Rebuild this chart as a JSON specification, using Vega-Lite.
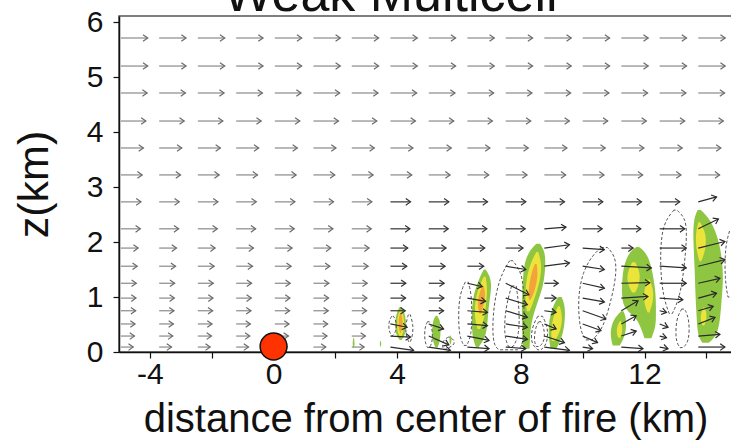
{
"$schema": "https://vega.github.io/schema/vega-lite/v6.json",
"autosize": {"type": "none"},
"padding": {"left": 119, "top": 16, "right": 0, "bottom": 92},
"width": 613,
"height": 336,
"background": "white",
"title": {"text": "Weak Multicell", "fontSize": 52, "font": "Liberation Sans", "fontWeight": "normal", "color": "#111", "anchor": "middle", "dx": -35, "dy": 15, "offset": 0},
"config": {
  "view": {"stroke": "#555", "strokeWidth": 1.5},
  "axis": {"labelFont": "Liberation Sans", "titleFont": "Liberation Sans", "labelFontSize": 30, "titleFontSize": 40, "titleFontWeight": "normal", "labelColor": "#111", "titleColor": "#111", "domainColor": "#111", "domainWidth": 1.5, "tickColor": "#111", "tickSize": 6, "tickWidth": 1.2, "grid": false},
  "axisX": {"titlePadding": 10, "labelPadding": 1},
  "axisY": {"titlePadding": 30, "labelPadding": 10, "titleFontSize": 43}
},
"datasets": {
"env": [
{"x":-4.94,"z":5.71,"xe":-4.07},{"x":-3.70,"z":5.71,"xe":-2.83},{"x":-2.45,"z":5.71,"xe":-1.58},{"x":-1.21,"z":5.71,"xe":-0.34},{"x":0.04,"z":5.71,"xe":0.91},{"x":1.29,"z":5.71,"xe":2.16},{"x":2.53,"z":5.71,"xe":3.40},{"x":3.78,"z":5.71,"xe":4.65},{"x":5.02,"z":5.71,"xe":5.89},{"x":6.27,"z":5.71,"xe":7.14},{"x":7.51,"z":5.71,"xe":8.38},{"x":8.76,"z":5.71,"xe":9.63},{"x":10.0,"z":5.71,"xe":10.87},{"x":11.25,"z":5.71,"xe":12.12},{"x":12.49,"z":5.71,"xe":13.36},{"x":13.74,"z":5.71,"xe":14.61},
{"x":-4.94,"z":5.2,"xe":-4.07},{"x":-3.70,"z":5.2,"xe":-2.83},{"x":-2.45,"z":5.2,"xe":-1.58},{"x":-1.21,"z":5.2,"xe":-0.34},{"x":0.04,"z":5.2,"xe":0.91},{"x":1.29,"z":5.2,"xe":2.16},{"x":2.53,"z":5.2,"xe":3.40},{"x":3.78,"z":5.2,"xe":4.65},{"x":5.02,"z":5.2,"xe":5.89},{"x":6.27,"z":5.2,"xe":7.14},{"x":7.51,"z":5.2,"xe":8.38},{"x":8.76,"z":5.2,"xe":9.63},{"x":10.0,"z":5.2,"xe":10.87},{"x":11.25,"z":5.2,"xe":12.12},{"x":12.49,"z":5.2,"xe":13.36},{"x":13.74,"z":5.2,"xe":14.61},
{"x":-4.94,"z":4.71,"xe":-4.09},{"x":-3.70,"z":4.71,"xe":-2.85},{"x":-2.45,"z":4.71,"xe":-1.60},{"x":-1.21,"z":4.71,"xe":-0.36},{"x":0.04,"z":4.71,"xe":0.89},{"x":1.29,"z":4.71,"xe":2.14},{"x":2.53,"z":4.71,"xe":3.38},{"x":3.78,"z":4.71,"xe":4.63},{"x":5.02,"z":4.71,"xe":5.87},{"x":6.27,"z":4.71,"xe":7.12},{"x":7.51,"z":4.71,"xe":8.36},{"x":8.76,"z":4.71,"xe":9.61},{"x":10.0,"z":4.71,"xe":10.85},{"x":11.25,"z":4.71,"xe":12.10},{"x":12.49,"z":4.71,"xe":13.34},{"x":13.74,"z":4.71,"xe":14.59},
{"x":-4.94,"z":4.2,"xe":-4.13},{"x":-3.70,"z":4.2,"xe":-2.89},{"x":-2.45,"z":4.2,"xe":-1.64},{"x":-1.21,"z":4.2,"xe":-0.40},{"x":0.04,"z":4.2,"xe":0.85},{"x":1.29,"z":4.2,"xe":2.10},{"x":2.53,"z":4.2,"xe":3.34},{"x":3.78,"z":4.2,"xe":4.59},{"x":5.02,"z":4.2,"xe":5.83},{"x":6.27,"z":4.2,"xe":7.08},{"x":7.51,"z":4.2,"xe":8.32},{"x":8.76,"z":4.2,"xe":9.57},{"x":10.0,"z":4.2,"xe":10.81},{"x":11.25,"z":4.2,"xe":12.06},{"x":12.49,"z":4.2,"xe":13.30},{"x":13.74,"z":4.2,"xe":14.55},
{"x":-4.94,"z":3.71,"xe":-4.21},{"x":-3.70,"z":3.71,"xe":-2.97},{"x":-2.45,"z":3.71,"xe":-1.72},{"x":-1.21,"z":3.71,"xe":-0.48},{"x":0.04,"z":3.71,"xe":0.77},{"x":1.29,"z":3.71,"xe":2.02},{"x":2.53,"z":3.71,"xe":3.26},{"x":3.78,"z":3.71,"xe":4.51},{"x":5.02,"z":3.71,"xe":5.75},{"x":6.27,"z":3.71,"xe":7.00},{"x":7.51,"z":3.71,"xe":8.24},{"x":8.76,"z":3.71,"xe":9.49},{"x":10.0,"z":3.71,"xe":10.73},{"x":11.25,"z":3.71,"xe":11.98},{"x":12.49,"z":3.71,"xe":13.22},{"x":13.74,"z":3.71,"xe":14.47},
{"x":-4.94,"z":3.22,"xe":-4.25},{"x":-3.70,"z":3.22,"xe":-3.01},{"x":-2.45,"z":3.22,"xe":-1.76},{"x":-1.21,"z":3.22,"xe":-0.52},{"x":0.04,"z":3.22,"xe":0.73},{"x":1.29,"z":3.22,"xe":1.98},{"x":2.53,"z":3.22,"xe":3.22},{"x":3.78,"z":3.22,"xe":4.47},{"x":5.02,"z":3.22,"xe":5.71},{"x":6.27,"z":3.22,"xe":6.96},{"x":7.51,"z":3.22,"xe":8.20},{"x":8.76,"z":3.22,"xe":9.45},{"x":10.0,"z":3.22,"xe":10.69},{"x":11.25,"z":3.22,"xe":11.94},{"x":12.49,"z":3.22,"xe":13.18},{"x":13.74,"z":3.22,"xe":14.43},
{"x":-4.94,"z":2.73,"xe":-4.29},{"x":-3.70,"z":2.73,"xe":-3.05},{"x":-2.45,"z":2.73,"xe":-1.80},{"x":-1.21,"z":2.73,"xe":-0.56},{"x":0.04,"z":2.73,"xe":0.69},{"x":1.29,"z":2.73,"xe":1.94},{"x":2.53,"z":2.73,"xe":3.18},{"x":3.78,"z":2.73,"xe":4.43},{"x":5.02,"z":2.73,"xe":5.67},{"x":6.27,"z":2.73,"xe":6.92},{"x":7.51,"z":2.73,"xe":8.16},{"x":8.76,"z":2.73,"xe":9.41},{"x":10.0,"z":2.73,"xe":10.65},{"x":11.25,"z":2.73,"xe":11.90},{"x":12.49,"z":2.73,"xe":13.14},
{"x":-4.94,"z":2.24,"xe":-4.31},{"x":-3.70,"z":2.24,"xe":-3.07},{"x":-2.45,"z":2.24,"xe":-1.82},{"x":-1.21,"z":2.24,"xe":-0.58},{"x":0.04,"z":2.24,"xe":0.67},{"x":1.29,"z":2.24,"xe":1.92},{"x":2.53,"z":2.24,"xe":3.16},{"x":3.78,"z":2.24,"xe":4.41},{"x":5.02,"z":2.24,"xe":5.65},{"x":6.27,"z":2.24,"xe":6.90},{"x":7.51,"z":2.24,"xe":8.14},{"x":10.0,"z":2.24,"xe":10.63},{"x":11.25,"z":2.24,"xe":11.88},
{"x":-4.94,"z":1.89,"xe":-4.38},{"x":-3.70,"z":1.89,"xe":-3.14},{"x":-2.45,"z":1.89,"xe":-1.89},{"x":-1.21,"z":1.89,"xe":-0.65},{"x":0.04,"z":1.89,"xe":0.60},{"x":1.29,"z":1.89,"xe":1.85},{"x":2.53,"z":1.89,"xe":3.09},{"x":3.78,"z":1.89,"xe":4.34},{"x":5.02,"z":1.89,"xe":5.58},{"x":6.27,"z":1.89,"xe":6.83},{"x":7.51,"z":1.89,"xe":8.07},
{"x":-4.94,"z":1.56,"xe":-4.41},{"x":-3.70,"z":1.56,"xe":-3.17},{"x":-2.45,"z":1.56,"xe":-1.92},{"x":-1.21,"z":1.56,"xe":-0.68},{"x":0.04,"z":1.56,"xe":0.57},{"x":1.29,"z":1.56,"xe":1.82},{"x":2.53,"z":1.56,"xe":3.06},{"x":3.78,"z":1.56,"xe":4.31},{"x":5.02,"z":1.56,"xe":5.55},{"x":6.27,"z":1.56,"xe":6.80},
{"x":-4.94,"z":1.25,"xe":-4.44},{"x":-3.70,"z":1.25,"xe":-3.20},{"x":-2.45,"z":1.25,"xe":-1.95},{"x":-1.21,"z":1.25,"xe":-0.71},{"x":0.04,"z":1.25,"xe":0.54},{"x":1.29,"z":1.25,"xe":1.79},{"x":2.53,"z":1.25,"xe":3.03},{"x":3.78,"z":1.25,"xe":4.28},{"x":5.02,"z":1.25,"xe":5.52},
{"x":-4.94,"z":0.98,"xe":-4.45},{"x":-3.70,"z":0.98,"xe":-3.21},{"x":-2.45,"z":0.98,"xe":-1.96},{"x":-1.21,"z":0.98,"xe":-0.72},{"x":0.04,"z":0.98,"xe":0.53},{"x":1.29,"z":0.98,"xe":1.78},{"x":2.53,"z":0.98,"xe":3.02},{"x":3.78,"z":0.98,"xe":4.27},{"x":5.02,"z":0.98,"xe":5.51},
{"x":-4.94,"z":0.75,"xe":-4.46},{"x":-3.70,"z":0.75,"xe":-3.22},{"x":-2.45,"z":0.75,"xe":-1.97},{"x":-1.21,"z":0.75,"xe":-0.73},{"x":0.04,"z":0.75,"xe":0.52},{"x":1.29,"z":0.75,"xe":1.77},{"x":2.53,"z":0.75,"xe":3.01},{"x":3.78,"z":0.75,"xe":4.26},{"x":5.02,"z":0.75,"xe":5.50},
{"x":-4.94,"z":0.51,"xe":-4.48},{"x":-3.70,"z":0.51,"xe":-3.24},{"x":-2.45,"z":0.51,"xe":-1.99},{"x":-1.21,"z":0.51,"xe":-0.75},{"x":0.04,"z":0.51,"xe":0.50},{"x":1.29,"z":0.51,"xe":1.75},{"x":2.53,"z":0.51,"xe":2.99},
{"x":-4.94,"z":0.29,"xe":-4.50},{"x":-3.70,"z":0.29,"xe":-3.26},{"x":-2.45,"z":0.29,"xe":-2.01},{"x":-1.21,"z":0.29,"xe":-0.77},{"x":0.04,"z":0.29,"xe":0.48},{"x":1.29,"z":0.29,"xe":1.73},{"x":2.53,"z":0.29,"xe":2.97},
{"x":-4.94,"z":0.09,"xe":-4.54},{"x":-3.70,"z":0.09,"xe":-3.30},{"x":-2.45,"z":0.09,"xe":-2.05},{"x":-1.21,"z":0.09,"xe":-0.81},{"x":0.04,"z":0.09,"xe":0.44},{"x":1.29,"z":0.09,"xe":1.69},{"x":2.53,"z":0.09,"xe":2.93}
],
"storm": [
{"x":3.78,"z":0.51,"xe":4.32,"ze":0.45,"a":11},{"x":3.78,"z":0.29,"xe":4.43,"ze":0.27,"a":3},{"x":3.78,"z":0.09,"xe":4.53,"ze":0.03,"a":8},
{"x":5.02,"z":0.51,"xe":5.50,"ze":0.42,"a":18},{"x":5.02,"z":0.29,"xe":5.67,"ze":0.13,"a":24},{"x":5.02,"z":0.09,"xe":5.72,"ze":0.03,"a":9},
{"x":6.27,"z":1.25,"xe":6.75,"ze":1.19,"a":13},{"x":6.27,"z":0.98,"xe":6.86,"ze":0.92,"a":10},{"x":6.27,"z":0.75,"xe":6.92,"ze":0.72,"a":5},{"x":6.27,"z":0.51,"xe":6.92,"ze":0.48,"a":5},{"x":6.27,"z":0.29,"xe":6.97,"ze":0.21,"a":11},{"x":6.27,"z":0.09,"xe":6.97,"ze":0.06,"a":4},
{"x":7.51,"z":1.56,"xe":8.16,"ze":1.50,"a":9},{"x":7.51,"z":1.25,"xe":8.26,"ze":1.04,"a":27},{"x":7.51,"z":0.98,"xe":8.21,"ze":0.86,"a":17},{"x":7.51,"z":0.75,"xe":8.21,"ze":0.63,"a":17},{"x":7.51,"z":0.51,"xe":8.21,"ze":0.45,"a":9},{"x":7.51,"z":0.29,"xe":8.21,"ze":0.23,"a":9},{"x":7.51,"z":0.09,"xe":8.16,"ze":0.06,"a":5},
{"x":8.76,"z":2.24,"xe":9.46,"ze":2.27,"a":-4},{"x":8.76,"z":1.89,"xe":9.57,"ze":1.95,"a":-8},{"x":8.76,"z":1.56,"xe":9.57,"ze":1.62,"a":-8},{"x":8.76,"z":1.25,"xe":9.21,"ze":1.25,"a":0},{"x":8.76,"z":0.98,"xe":9.14,"ze":0.98,"a":0},{"x":8.76,"z":0.75,"xe":9.14,"ze":0.72,"a":8},{"x":8.76,"z":0.51,"xe":9.14,"ze":0.42,"a":23},{"x":8.76,"z":0.29,"xe":9.41,"ze":0.17,"a":18},{"x":8.76,"z":0.09,"xe":9.57,"ze":0.03,"a":8},
{"x":10.0,"z":1.89,"xe":10.70,"ze":1.86,"a":4},{"x":10.0,"z":1.56,"xe":10.70,"ze":1.50,"a":9},{"x":10.0,"z":1.25,"xe":10.70,"ze":1.16,"a":13},{"x":10.0,"z":0.98,"xe":10.70,"ze":0.91,"a":10},{"x":10.0,"z":0.75,"xe":10.75,"ze":0.60,"a":20},{"x":10.0,"z":0.51,"xe":10.59,"ze":0.39,"a":20},{"x":10.0,"z":0.29,"xe":10.48,"ze":0.17,"a":24},{"x":10.0,"z":0.09,"xe":10.32,"ze":0.06,"a":9},
{"x":11.25,"z":1.89,"xe":11.63,"ze":1.89,"a":0},{"x":11.25,"z":1.56,"xe":12.22,"ze":1.53,"a":3},{"x":11.25,"z":1.25,"xe":12.17,"ze":1.26,"a":-1},{"x":11.25,"z":0.98,"xe":12.11,"ze":1.01,"a":-4},{"x":11.25,"z":0.75,"xe":11.79,"ze":0.93,"a":-31},{"x":11.25,"z":0.51,"xe":11.73,"ze":0.66,"a":-29},{"x":11.25,"z":0.29,"xe":11.73,"ze":0.38,"a":-18},{"x":11.25,"z":0.09,"xe":11.95,"ze":0.06,"a":4},
{"x":12.49,"z":2.24,"xe":13.30,"ze":2.24,"a":0},{"x":12.49,"z":1.89,"xe":13.35,"ze":1.89,"a":0},{"x":12.49,"z":1.56,"xe":13.35,"ze":1.53,"a":4},{"x":12.49,"z":1.25,"xe":13.35,"ze":1.25,"a":0},{"x":12.49,"z":0.98,"xe":13.24,"ze":0.95,"a":4},{"x":12.49,"z":0.75,"xe":12.71,"ze":0.72,"a":14},{"x":12.49,"z":0.51,"xe":12.76,"ze":0.45,"a":22},{"x":12.49,"z":0.29,"xe":12.71,"ze":0.26,"a":14},{"x":12.49,"z":0.09,"xe":12.76,"ze":0.06,"a":11},
{"x":13.74,"z":2.73,"xe":14.33,"ze":2.82,"a":-15},{"x":13.74,"z":2.24,"xe":14.39,"ze":2.42,"a":-27},{"x":13.74,"z":1.89,"xe":14.60,"ze":2.01,"a":-14},{"x":13.74,"z":1.56,"xe":14.60,"ze":1.68,"a":-14},{"x":13.74,"z":1.25,"xe":14.44,"ze":1.34,"a":-13},{"x":13.74,"z":0.98,"xe":14.33,"ze":1.07,"a":-15},{"x":13.74,"z":0.75,"xe":14.22,"ze":0.83,"a":-16},{"x":13.74,"z":0.51,"xe":14.28,"ze":0.63,"a":-22},{"x":13.74,"z":0.29,"xe":14.44,"ze":0.32,"a":-4},{"x":13.74,"z":0.09,"xe":14.60,"ze":0.09,"a":0}
],
"blobs": [
{"b":"1g","lev":"g","z":0.22,"l":4.08,"r":4.14},{"b":"1g","lev":"g","z":0.30,"l":3.97,"r":4.25},{"b":"1g","lev":"g","z":0.45,"l":3.93,"r":4.29},{"b":"1g","lev":"g","z":0.60,"l":3.94,"r":4.28},{"b":"1g","lev":"g","z":0.72,"l":3.99,"r":4.23},{"b":"1g","lev":"g","z":0.82,"l":4.08,"r":4.14},
{"b":"1y","lev":"y","z":0.28,"l":4.08,"r":4.13},{"b":"1y","lev":"y","z":0.38,"l":4.00,"r":4.22},{"b":"1y","lev":"y","z":0.55,"l":3.99,"r":4.23},{"b":"1y","lev":"y","z":0.68,"l":4.03,"r":4.20},{"b":"1y","lev":"y","z":0.76,"l":4.09,"r":4.13},
{"b":"1o","lev":"o","z":0.35,"l":4.09,"r":4.12},{"b":"1o","lev":"o","z":0.45,"l":4.04,"r":4.17},{"b":"1o","lev":"o","z":0.58,"l":4.04,"r":4.18},{"b":"1o","lev":"o","z":0.70,"l":4.09,"r":4.13},
{"b":"2g","lev":"g","z":0.08,"l":5.24,"r":5.30},{"b":"2g","lev":"g","z":0.15,"l":5.18,"r":5.36},{"b":"2g","lev":"g","z":0.30,"l":5.13,"r":5.40},{"b":"2g","lev":"g","z":0.48,"l":5.13,"r":5.41},{"b":"2g","lev":"g","z":0.60,"l":5.18,"r":5.36},{"b":"2g","lev":"g","z":0.66,"l":5.25,"r":5.29},
{"b":"t1","lev":"g","z":0.08,"l":2.58,"r":2.60},{"b":"t1","lev":"g","z":0.15,"l":2.55,"r":2.63},{"b":"t1","lev":"g","z":0.26,"l":2.58,"r":2.60},
{"b":"t2","lev":"g","z":0.10,"l":3.45,"r":3.47},{"b":"t2","lev":"g","z":0.15,"l":3.43,"r":3.49},{"b":"t2","lev":"g","z":0.20,"l":3.45,"r":3.47},
{"b":"t3","lev":"g","z":0.14,"l":5.71,"r":5.73},{"b":"t3","lev":"g","z":0.22,"l":5.68,"r":5.77},{"b":"t3","lev":"g","z":0.30,"l":5.71,"r":5.73},
{"b":"3g","lev":"g","z":0.08,"l":6.55,"r":6.62},{"b":"3g","lev":"g","z":0.25,"l":6.44,"r":6.85},{"b":"3g","lev":"g","z":0.50,"l":6.41,"r":6.92},{"b":"3g","lev":"g","z":0.80,"l":6.42,"r":6.95},{"b":"3g","lev":"g","z":1.05,"l":6.47,"r":7.02},{"b":"3g","lev":"g","z":1.25,"l":6.60,"r":7.05},{"b":"3g","lev":"g","z":1.40,"l":6.70,"r":6.98},{"b":"3g","lev":"g","z":1.50,"l":6.80,"r":6.86},
{"b":"3y","lev":"y","z":0.42,"l":6.60,"r":6.68},{"b":"3y","lev":"y","z":0.60,"l":6.51,"r":6.82},{"b":"3y","lev":"y","z":0.90,"l":6.51,"r":6.88},{"b":"3y","lev":"y","z":1.15,"l":6.62,"r":6.92},{"b":"3y","lev":"y","z":1.37,"l":6.80,"r":6.86},
{"b":"3o","lev":"o","z":0.70,"l":6.66,"r":6.71},{"b":"3o","lev":"o","z":0.85,"l":6.59,"r":6.80},{"b":"3o","lev":"o","z":1.05,"l":6.64,"r":6.86},{"b":"3o","lev":"o","z":1.20,"l":6.75,"r":6.80},
{"b":"4g","lev":"g","z":0.06,"l":8.08,"r":8.28},{"b":"4g","lev":"g","z":0.30,"l":8.04,"r":8.30},{"b":"4g","lev":"g","z":0.52,"l":8.04,"r":8.33},{"b":"4g","lev":"g","z":0.82,"l":8.03,"r":8.48},{"b":"4g","lev":"g","z":1.20,"l":8.05,"r":8.74},{"b":"4g","lev":"g","z":1.60,"l":8.10,"r":8.80},{"b":"4g","lev":"g","z":1.82,"l":8.25,"r":8.78},{"b":"4g","lev":"g","z":1.97,"l":8.50,"r":8.62},
{"b":"4y","lev":"y","z":0.74,"l":8.20,"r":8.28},{"b":"4y","lev":"y","z":0.90,"l":8.14,"r":8.40},{"b":"4y","lev":"y","z":1.30,"l":8.16,"r":8.63},{"b":"4y","lev":"y","z":1.60,"l":8.30,"r":8.68},{"b":"4y","lev":"y","z":1.82,"l":8.50,"r":8.56},
{"b":"4o","lev":"o","z":0.95,"l":8.26,"r":8.31},{"b":"4o","lev":"o","z":1.10,"l":8.24,"r":8.45},{"b":"4o","lev":"o","z":1.40,"l":8.32,"r":8.56},{"b":"4o","lev":"o","z":1.60,"l":8.45,"r":8.51},
{"b":"5g","lev":"g","z":0.06,"l":8.96,"r":9.15},{"b":"5g","lev":"g","z":0.30,"l":8.89,"r":9.36},{"b":"5g","lev":"g","z":0.60,"l":8.91,"r":9.43},{"b":"5g","lev":"g","z":0.85,"l":9.05,"r":9.43},{"b":"5g","lev":"g","z":1.00,"l":9.20,"r":9.32},
{"b":"5y","lev":"y","z":0.20,"l":9.00,"r":9.10},{"b":"5y","lev":"y","z":0.40,"l":8.97,"r":9.30},{"b":"5y","lev":"y","z":0.65,"l":9.05,"r":9.35},{"b":"5y","lev":"y","z":0.83,"l":9.20,"r":9.26},
{"b":"6g","lev":"g","z":0.25,"l":12.00,"r":12.22},{"b":"6g","lev":"g","z":0.45,"l":11.88,"r":12.36},{"b":"6g","lev":"g","z":0.65,"l":11.70,"r":12.37},{"b":"6g","lev":"g","z":0.80,"l":11.30,"r":12.37},{"b":"6g","lev":"g","z":1.10,"l":11.26,"r":12.36},{"b":"6g","lev":"g","z":1.45,"l":11.29,"r":12.26},{"b":"6g","lev":"g","z":1.70,"l":11.40,"r":12.15},{"b":"6g","lev":"g","z":1.85,"l":11.58,"r":11.97},{"b":"6g","lev":"g","z":1.91,"l":11.74,"r":11.82},
{"b":"6ya","lev":"y","z":1.08,"l":11.60,"r":11.70},{"b":"6ya","lev":"y","z":1.25,"l":11.44,"r":11.84},{"b":"6ya","lev":"y","z":1.45,"l":11.44,"r":11.86},{"b":"6ya","lev":"y","z":1.63,"l":11.60,"r":11.70},
{"b":"6yb","lev":"y","z":0.72,"l":12.10,"r":12.16},{"b":"6yb","lev":"y","z":0.90,"l":11.97,"r":12.28},{"b":"6yb","lev":"y","z":1.15,"l":11.99,"r":12.29},{"b":"6yb","lev":"y","z":1.32,"l":12.10,"r":12.16},
{"b":"7g","lev":"g","z":0.12,"l":10.97,"r":11.20},{"b":"7g","lev":"g","z":0.30,"l":10.89,"r":11.38},{"b":"7g","lev":"g","z":0.50,"l":10.93,"r":11.41},{"b":"7g","lev":"g","z":0.65,"l":11.08,"r":11.39},{"b":"7g","lev":"g","z":0.74,"l":11.24,"r":11.32},
{"b":"7y","lev":"y","z":0.26,"l":11.15,"r":11.22},{"b":"7y","lev":"y","z":0.35,"l":11.09,"r":11.28},{"b":"7y","lev":"y","z":0.48,"l":11.12,"r":11.28},{"b":"7y","lev":"y","z":0.56,"l":11.20,"r":11.24},
{"b":"8g","lev":"g","z":0.17,"l":13.87,"r":14.08},{"b":"8g","lev":"g","z":0.30,"l":13.72,"r":14.35},{"b":"8g","lev":"g","z":0.60,"l":13.69,"r":14.45},{"b":"8g","lev":"g","z":1.00,"l":13.65,"r":14.50},{"b":"8g","lev":"g","z":1.40,"l":13.63,"r":14.56},{"b":"8g","lev":"g","z":1.90,"l":13.59,"r":14.46},{"b":"8g","lev":"g","z":2.20,"l":13.57,"r":14.30},{"b":"8g","lev":"g","z":2.45,"l":13.61,"r":14.07},{"b":"8g","lev":"g","z":2.58,"l":13.72,"r":13.82},
{"b":"8ya","lev":"y","z":1.65,"l":13.78,"r":13.83},{"b":"8ya","lev":"y","z":1.85,"l":13.67,"r":13.98},{"b":"8ya","lev":"y","z":2.15,"l":13.65,"r":14.00},{"b":"8ya","lev":"y","z":2.36,"l":13.74,"r":13.80},
{"b":"8yb","lev":"y","z":0.48,"l":13.88,"r":13.93},{"b":"8yb","lev":"y","z":0.58,"l":13.81,"r":14.01},{"b":"8yb","lev":"y","z":0.72,"l":13.83,"r":14.00},{"b":"8yb","lev":"y","z":0.81,"l":13.90,"r":13.95}
],
"loops": [
{"b":"L1","z":0.30,"l":3.82,"r":3.86},{"b":"L1","z":0.38,"l":3.73,"r":3.97},{"b":"L1","z":0.55,"l":3.72,"r":3.98},{"b":"L1","z":0.65,"l":3.82,"r":3.88},
{"b":"L2","z":0.18,"l":4.38,"r":4.42},{"b":"L2","z":0.30,"l":4.28,"r":4.50},{"b":"L2","z":0.50,"l":4.27,"r":4.52},{"b":"L2","z":0.68,"l":4.36,"r":4.42},
{"b":"L3","z":0.08,"l":4.98,"r":5.05},{"b":"L3","z":0.20,"l":4.88,"r":5.15},{"b":"L3","z":0.45,"l":4.89,"r":5.13},{"b":"L3","z":0.55,"l":4.98,"r":5.04},
{"b":"L3b","z":0.05,"l":5.50,"r":5.55},{"b":"L3b","z":0.12,"l":5.45,"r":5.85},{"b":"L3b","z":0.22,"l":5.50,"r":5.85},{"b":"L3b","z":0.27,"l":5.65,"r":5.70},
{"b":"L4","z":0.12,"l":6.15,"r":6.25},{"b":"L4","z":0.30,"l":6.00,"r":6.40},{"b":"L4","z":0.70,"l":5.98,"r":6.42},{"b":"L4","z":1.05,"l":6.02,"r":6.40},{"b":"L4","z":1.27,"l":6.20,"r":6.30},
{"b":"L5","z":0.04,"l":7.30,"r":7.90},{"b":"L5","z":0.12,"l":7.10,"r":8.08},{"b":"L5","z":0.60,"l":7.08,"r":8.10},{"b":"L5","z":1.10,"l":7.20,"r":8.10},{"b":"L5","z":1.45,"l":7.40,"r":8.02},{"b":"L5","z":1.66,"l":7.64,"r":7.74},
{"b":"L5b","z":0.10,"l":7.60,"r":7.75},{"b":"L5b","z":0.30,"l":7.45,"r":7.95},{"b":"L5b","z":0.80,"l":7.50,"r":7.95},{"b":"L5b","z":1.20,"l":7.70,"r":7.85},
{"b":"L6","z":0.04,"l":8.55,"r":8.65},{"b":"L6","z":0.15,"l":8.32,"r":8.86},{"b":"L6","z":0.45,"l":8.35,"r":8.88},{"b":"L6","z":0.65,"l":8.55,"r":8.70},
{"b":"L6b","z":0.10,"l":8.50,"r":8.60},{"b":"L6b","z":0.20,"l":8.42,"r":8.78},{"b":"L6b","z":0.45,"l":8.47,"r":8.75},{"b":"L6b","z":0.55,"l":8.58,"r":8.65},
{"b":"L7","z":0.22,"l":10.10,"r":10.30},{"b":"L7","z":0.40,"l":9.90,"r":10.65},{"b":"L7","z":1.00,"l":9.84,"r":10.95},{"b":"L7","z":1.45,"l":10.00,"r":11.10},{"b":"L7","z":1.75,"l":10.30,"r":11.05},{"b":"L7","z":1.90,"l":10.60,"r":10.80},
{"b":"L8","z":0.70,"l":12.80,"r":12.90},{"b":"L8","z":1.00,"l":12.60,"r":13.15},{"b":"L8","z":1.60,"l":12.50,"r":13.30},{"b":"L8","z":2.20,"l":12.55,"r":13.38},{"b":"L8","z":2.45,"l":12.75,"r":13.30},{"b":"L8","z":2.58,"l":12.95,"r":13.05},
{"b":"L9","z":0.08,"l":13.15,"r":13.25},{"b":"L9","z":0.20,"l":13.00,"r":13.45},{"b":"L9","z":0.60,"l":13.02,"r":13.45},{"b":"L9","z":0.78,"l":13.20,"r":13.30},
{"b":"L10","z":1.00,"l":14.70,"r":14.80},{"b":"L10","z":1.30,"l":14.60,"r":15.20},{"b":"L10","z":1.90,"l":14.60,"r":15.20},{"b":"L10","z":2.20,"l":14.75,"r":14.90}
],
"fire": [{"x": 0, "z": 0.1}]
},
"layer": [
{"data": {"name": "blobs"}, "transform": [{"filter": "datum.lev == 'g'"}],
 "mark": {"type": "area", "orient": "horizontal", "interpolate": "basis", "fill": "#8fc641", "clip": true},
 "encoding": {
  "y": {"field": "z", "type": "quantitative", "title": "z(km)", "scale": {"domain": [0, 6.11], "nice": false, "zero": false}, "axis": {"values": [0,1,2,3,4,5,6], "format": "d"}},
  "x": {"field": "l", "type": "quantitative", "title": "distance from center of fire (km)", "scale": {"domain": [-5, 14.83], "nice": false, "zero": false}, "axis": {"values": [-4,-2,0,2,4,6,8,10,12,14], "labelExpr": "datum.value % 4 === 0 ? '' + datum.value : ''"}},
  "x2": {"field": "r"},
  "detail": {"field": "b"}}},
{"data": {"name": "blobs"}, "transform": [{"filter": "datum.lev == 'y'"}],
 "mark": {"type": "area", "orient": "horizontal", "interpolate": "basis", "fill": "#ebe43a", "clip": true},
 "encoding": {
  "y": {"field": "z", "type": "quantitative", "title": "z(km)"},
  "x": {"field": "l", "type": "quantitative", "title": "distance from center of fire (km)"},
  "x2": {"field": "r"},
  "detail": {"field": "b"}}},
{"data": {"name": "blobs"}, "transform": [{"filter": "datum.lev == 'o'"}],
 "mark": {"type": "area", "orient": "horizontal", "interpolate": "basis", "fill": "#f2a33a", "clip": true},
 "encoding": {
  "y": {"field": "z", "type": "quantitative", "title": "z(km)"},
  "x": {"field": "l", "type": "quantitative", "title": "distance from center of fire (km)"},
  "x2": {"field": "r"},
  "detail": {"field": "b"}}},
{"data": {"name": "loops"},
 "mark": {"type": "area", "orient": "horizontal", "interpolate": "basis", "fillOpacity": 0, "stroke": "#555", "strokeWidth": 1, "strokeDash": [3, 2], "clip": true},
 "encoding": {
  "y": {"field": "z", "type": "quantitative", "title": "z(km)"},
  "x": {"field": "l", "type": "quantitative", "title": "distance from center of fire (km)"},
  "x2": {"field": "r"},
  "detail": {"field": "b"}}},
{"data": {"name": "env"},
 "mark": {"type": "rule", "strokeWidth": 1.2, "clip": true},
 "encoding": {
  "y": {"field": "z", "type": "quantitative", "title": "z(km)"},
  "x": {"field": "x", "type": "quantitative", "title": "distance from center of fire (km)"},
  "x2": {"field": "xe"},
  "color": {"condition": {"test": "datum.x > 3 && datum.z < 2.8", "value": "#333"}, "value": "#8a8a8a"}}},
{"data": {"name": "env"},
 "mark": {"type": "point", "shape": "M-1,-0.7L0,0L-1,0.7", "size": 90, "filled": false, "strokeWidth": 1.2, "opacity": 1, "clip": true},
 "encoding": {
  "y": {"field": "z", "type": "quantitative", "title": "z(km)"},
  "x": {"field": "xe", "type": "quantitative", "title": "distance from center of fire (km)"},
  "color": {"condition": {"test": "datum.x > 3 && datum.z < 2.8", "value": "#333"}, "value": "#6a6a6a"}}},
{"data": {"name": "storm"},
 "mark": {"type": "rule", "strokeWidth": 1.2, "color": "#2b2b2b", "clip": true},
 "encoding": {
  "y": {"field": "z", "type": "quantitative", "title": "z(km)"},
  "y2": {"field": "ze"},
  "x": {"field": "x", "type": "quantitative", "title": "distance from center of fire (km)"},
  "x2": {"field": "xe"}}},
{"data": {"name": "storm"},
 "mark": {"type": "point", "shape": "M-1,-0.7L0,0L-1,0.7", "size": 90, "filled": false, "strokeWidth": 1.2, "opacity": 1, "color": "#2b2b2b", "clip": true},
 "encoding": {
  "y": {"field": "ze", "type": "quantitative", "title": "z(km)"},
  "x": {"field": "xe", "type": "quantitative", "title": "distance from center of fire (km)"},
  "angle": {"field": "a", "type": "quantitative", "scale": null}}},
{"data": {"name": "fire"},
 "mark": {"type": "point", "shape": "circle", "size": 720, "filled": true, "fill": "#ff3300", "stroke": "#111", "strokeWidth": 1.5, "opacity": 1, "clip": false},
 "encoding": {
  "y": {"field": "z", "type": "quantitative", "title": "z(km)"},
  "x": {"field": "x", "type": "quantitative", "title": "distance from center of fire (km)"}}}
]
}
